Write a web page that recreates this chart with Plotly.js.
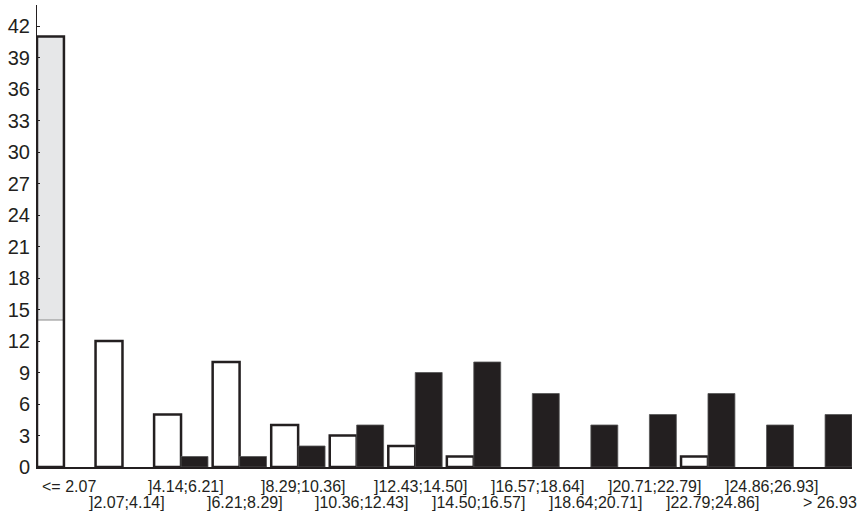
<!DOCTYPE html>
<html>
<head>
<meta charset="utf-8">
<script src="https://cdn.plot.ly/plotly-3.0.1.min.js"></script>
<style>html,body{margin:0;padding:0;background:#fff;}#chart{width:858px;height:512px;}</style>
</head>
<body>
<div id="chart"></div>
<script>
const categories = ["<= 2.07", "]2.07;4.14]", "]4.14;6.21]", "]6.21;8.29]", "]8.29;10.36]",
  "]10.36;12.43]", "]12.43;14.50]", "]14.50;16.57]", "]16.57;18.64]", "]18.64;20.71]",
  "]20.71;22.79]", "]22.79;24.86]", "]24.86;26.93]", "> 26.93"];
const whiteCounts = [41, 12, 5, 10, 4, 3, 2, 1, 0, 0, 0, 1, 0, 0];
const blackCounts = [0, 0, 1, 1, 2, 4, 9, 10, 7, 4, 5, 7, 4, 5];
// shaded (grey) part of the first white bar
const shadedCategory = ["<= 2.07"];
const shadedBase = [14];
const shadedTop = [41];
const yTicks = [0, 3, 6, 9, 12, 15, 18, 21, 24, 27, 30, 33, 36, 39, 42];

const ink = '#231f20';
const idx = categories.map((c, i) => i);
const shadedIdx = shadedCategory.map(c => categories.indexOf(c));
const noZero = v => (v === 0 ? null : v);

const traces = [
  {
    type: 'bar', x: shadedIdx, y: shadedTop.map((t, i) => t - shadedBase[i]), base: shadedBase,
    offset: -0.46, width: 0.46,
    marker: {color: '#e6e7e8', line: {color: '#8a8a8a', width: 1}},
    hoverinfo: 'skip'
  },
  {
    type: 'bar', x: idx, y: whiteCounts.map(noZero),
    offset: -0.46, width: 0.46,
    marker: {
      color: idx.map(i => shadedIdx.includes(i) ? 'rgba(255,255,255,0)' : '#ffffff'),
      line: {color: ink, width: 2.5}
    }
  },
  {
    type: 'bar', x: idx, y: blackCounts.map(noZero),
    offset: 0, width: 0.46,
    marker: {color: ink, line: {color: '#555555', width: 0.8}}
  }
];

const annotations = categories.map((c, i) => ({
  x: i, y: 0, xref: 'x', yref: 'paper', text: c, showarrow: false,
  xanchor: 'center', yanchor: 'middle', xshift: 5, yshift: i % 2 ? -35 : -19,
  font: {family: 'Liberation Sans, Arial, sans-serif', size: 16, color: ink}
}));

const layout = {
  width: 858, height: 512,
  margin: {l: 37, r: 6, t: 5, b: 45},
  paper_bgcolor: '#ffffff', plot_bgcolor: '#ffffff',
  barmode: 'overlay',
  showlegend: false,
  font: {family: 'Liberation Sans, Arial, sans-serif', color: ink},
  xaxis: {
    range: [-0.46, 13.46], showgrid: false, zeroline: false,
    showline: true, linecolor: ink, linewidth: 1.5,
    showticklabels: false, ticks: '', fixedrange: true
  },
  yaxis: {
    range: [0, 44], showgrid: false, zeroline: false,
    showline: true, linecolor: ink, linewidth: 1,
    tickmode: 'array', tickvals: yTicks, ticktext: yTicks.map(String),
    ticks: 'inside', ticklen: 3, tickcolor: ink, tickwidth: 1,
    tickfont: {size: 20, color: ink}, ticklabelstandoff: 2
  },
  annotations: annotations
};

Plotly.newPlot('chart', traces, layout, {staticPlot: true, displayModeBar: false});
</script>
</body>
</html>
